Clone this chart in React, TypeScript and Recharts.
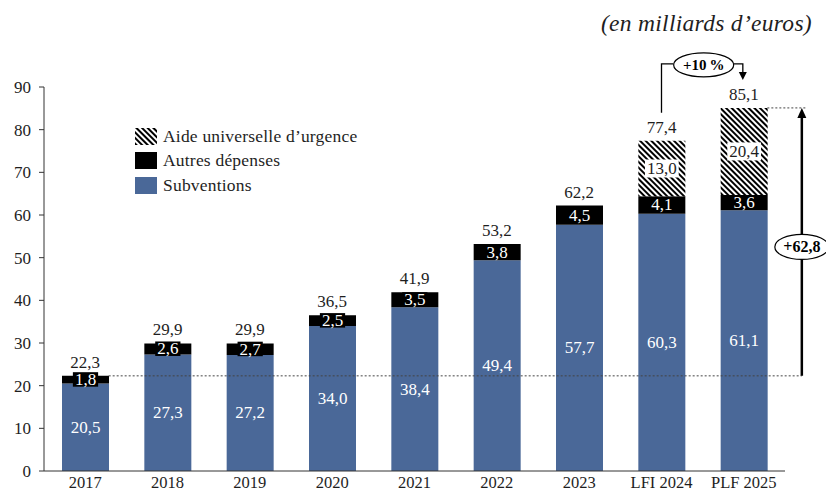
import React from 'react';
import { ComposedChart, Bar, Line, XAxis, YAxis, LabelList, ReferenceLine } from 'recharts';

const categories = ['2017', '2018', '2019', '2020', '2021', '2022', '2023', 'LFI 2024', 'PLF 2025'];
const subventions = [20.5, 27.3, 27.2, 34.0, 38.4, 49.4, 57.7, 60.3, 61.1];
const autresDepenses = [1.8, 2.6, 2.7, 2.5, 3.5, 3.8, 4.5, 4.1, 3.6];
const aideUniverselle = [0, 0, 0, 0, 0, 0, 0, 13.0, 20.4];
const totals = [22.3, 29.9, 29.9, 36.5, 41.9, 53.2, 62.2, 77.4, 85.1];
const yTicks = [0, 10, 20, 30, 40, 50, 60, 70, 80, 90];
const baselineValue = 22.3;
const progressionLabel = '+62,8';
const increaseLabel = '+10\u202f%';
const legendLabels = ['Aide universelle d\u2019urgence', 'Autres d\u00e9penses', 'Subventions'];
const unitLabel = '(en milliards d\u2019euros)';

const data = categories.map((cat, i) => ({
  cat,
  sub: subventions[i],
  autres: autresDepenses[i],
  aide: aideUniverselle[i],
  total: totals[i],
}));

const FONT = "'Liberation Serif', 'Times New Roman', serif";
const BLUE = '#4a6898';
const TXT = '#1e1e1e';
const VFS = 17;
const fmt = (v: number) => v.toFixed(1).replace('.', ',');
const textW = (s: string, fs: number) =>
  s.split('').reduce((a, c) => a + (c === ',' ? 0.25 : 0.5) * fs, 0);

const SubLabel = (p: any) => {
  const { x, y, width, height, value } = p;
  if (!value) return null;
  return (
    <text x={x + width / 2} y={y + height / 2} fill="#fff" fontSize={VFS} fontFamily={FONT}
      textAnchor="middle" dominantBaseline="central">{fmt(value)}</text>
  );
};

const AutresLabel = (p: any) => {
  const { x, y, width, height, value } = p;
  if (!value) return null;
  const s = fmt(value);
  const w = textW(s, VFS) + 4;
  const cx = x + width / 2;
  const cy = y + height / 2;
  return (
    <g>
      <rect x={cx - w / 2} y={cy - 7.5} width={w} height={14.5} fill="#000" />
      <text x={cx} y={cy} fill="#fff" fontSize={VFS} fontFamily={FONT}
        textAnchor="middle" dominantBaseline="central">{s}</text>
    </g>
  );
};

const AideLabel = (p: any) => {
  const { x, y, width, height, value } = p;
  if (!value) return null;
  const s = fmt(value);
  const w = textW(s, VFS) + 4;
  const cx = x + width / 2;
  const cy = y + height / 2;
  return (
    <g>
      <rect x={cx - w / 2} y={cy - 9} width={w} height={18} fill="#fff" />
      <text x={cx} y={cy} fill={TXT} fontSize={VFS} fontFamily={FONT}
        textAnchor="middle" dominantBaseline="central">{s}</text>
    </g>
  );
};

const TotalLabel = (p: any) => {
  const { x, y, value } = p;
  if (value == null) return null;
  return (
    <text x={x} y={y - 13.5} fill={TXT} fontSize={VFS} fontFamily={FONT}
      textAnchor="middle" dominantBaseline="central">{fmt(value)}</text>
  );
};

const BaselineShape = (p: any) => {
  const { x1, y1, x2 } = p;
  return <line x1={x1 + 23.5} y1={y1} x2={x2 + 58} y2={y1} stroke="#444" strokeWidth={1} strokeDasharray="2 2" />;
};

const ProgressionShape = (p: any) => {
  const { x1, y1, y2 } = p;
  const ax = x1 + 58;
  const mid = (y1 + y2) / 2 + 5;
  return (
    <g>
      <line x1={x1 + 23.5} y1={y2} x2={ax + 5} y2={y2} stroke="#444" strokeWidth={1} strokeDasharray="2 2" />
      <line x1={ax} y1={y1} x2={ax} y2={y2 + 8} stroke="#000" strokeWidth={2.5} />
      <polygon points={`${ax - 4.5},${y2 + 10} ${ax + 4.5},${y2 + 10} ${ax},${y2}`} fill="#000" />
      <ellipse cx={ax} cy={mid} rx={27} ry={12.5} fill="#fff" stroke="#000" strokeWidth={1.2} />
      <text x={ax} y={mid} fontSize={16} fontWeight="bold" fontFamily={FONT} fill="#000"
        textAnchor="middle" dominantBaseline="central">{progressionLabel}</text>
    </g>
  );
};

const IncreaseShape = (p: any) => {
  const { x1, y1, x2, y2 } = p;
  const top = y2 - 44;
  const cx = (x1 + x2) / 2 + 1;
  return (
    <g>
      <polyline points={`${x1},${y1 - 28} ${x1},${top} ${cx - 30},${top}`} fill="none" stroke="#000" strokeWidth={1.3} />
      <polyline points={`${cx + 30},${top} ${x2 - 1},${top} ${x2 - 1},${y2 - 34}`} fill="none" stroke="#000" strokeWidth={1.3} />
      <polygon points={`${x2 - 5},${y2 - 36} ${x2 + 3},${y2 - 36} ${x2 - 1},${y2 - 28}`} fill="#000" />
      <ellipse cx={cx} cy={top + 1} rx={30} ry={12} fill="#fff" stroke="#000" strokeWidth={1.2} />
      <text x={cx} y={top + 1} fontSize={15} fontWeight="bold" fontFamily={FONT} fill="#000"
        textAnchor="middle" dominantBaseline="central">{increaseLabel}</text>
    </g>
  );
};

const Swatch = ({ kind }: { kind: number }) => (
  <svg width={22} height={17} style={{ display: 'block' }}>
    <defs>
      <pattern id="hatchLegend" patternUnits="userSpaceOnUse" width={4} height={4} patternTransform="rotate(-45)">
        <rect width={4} height={4} fill="#fff" />
        <rect width={2} height={4} fill="#000" />
      </pattern>
    </defs>
    <rect width={22} height={17} fill={kind === 0 ? 'url(#hatchLegend)' : kind === 1 ? '#000' : BLUE} />
  </svg>
);

export default function App() {
  const legendY = [136, 160, 185.5];
  return (
    <div style={{ position: 'relative', width: 826, height: 492, fontFamily: FONT, background: '#fff' }}>
      <style>{`body{margin:0}`}</style>
      <ComposedChart width={826} height={492} data={data} margin={{ top: 87, right: 41, bottom: 1, left: 0 }} barSize={47}>
        <defs>
          <pattern id="hatch" patternUnits="userSpaceOnUse" width={4} height={4} patternTransform="rotate(-45)">
            <rect width={4} height={4} fill="#fff" />
            <rect width={2} height={4} fill="#000" />
          </pattern>
        </defs>
        <XAxis dataKey="cat" height={20} tickLine={false} tickSize={0} tickMargin={5} interval={0}
          stroke="#333" tick={{ fill: TXT, fontSize: 16.5, fontFamily: FONT }} />
        <YAxis width={44} domain={[0, 90]} ticks={yTicks} tickSize={5} tickMargin={8} interval={0}
          stroke="#333" tick={{ fill: TXT, fontSize: 17, fontFamily: FONT }} />
        <Bar dataKey="sub" stackId="s" fill={BLUE} isAnimationActive={false}>
          <LabelList dataKey="sub" content={SubLabel} />
        </Bar>
        <Bar dataKey="autres" stackId="s" fill="#000" isAnimationActive={false}>
          <LabelList dataKey="autres" content={AutresLabel} />
        </Bar>
        <Bar dataKey="aide" stackId="s" fill="url(#hatch)" isAnimationActive={false}>
          <LabelList dataKey="aide" content={AideLabel} />
        </Bar>
        <Line dataKey="total" stroke="none" dot={false} activeDot={false} isAnimationActive={false} legendType="none">
          <LabelList dataKey="total" content={TotalLabel} />
        </Line>
        <ReferenceLine ifOverflow="visible"
          segment={[{ x: categories[0], y: baselineValue }, { x: categories[8], y: baselineValue }]}
          shape={BaselineShape} />
        <ReferenceLine ifOverflow="visible"
          segment={[{ x: categories[8], y: baselineValue }, { x: categories[8], y: totals[8] }]}
          shape={ProgressionShape} />
        <ReferenceLine ifOverflow="visible"
          segment={[{ x: categories[7], y: totals[7] }, { x: categories[8], y: totals[8] }]}
          shape={IncreaseShape} />
      </ComposedChart>
      {legendLabels.map((l, i) => (
        <div key={l} style={{ position: 'absolute', left: 135, top: legendY[i] - 9, height: 18, display: 'flex', alignItems: 'center' }}>
          <Swatch kind={i} />
          <span style={{ marginLeft: 6, fontSize: 17.5, letterSpacing: 0.2, color: TXT, whiteSpace: 'nowrap' }}>{l}</span>
        </div>
      ))}
      <div style={{ position: 'absolute', right: 14, top: 11, fontSize: 23.5, lineHeight: '24px', fontStyle: 'italic', letterSpacing: 0.3, color: TXT, whiteSpace: 'nowrap' }}>
        {unitLabel}
      </div>
    </div>
  );
}
